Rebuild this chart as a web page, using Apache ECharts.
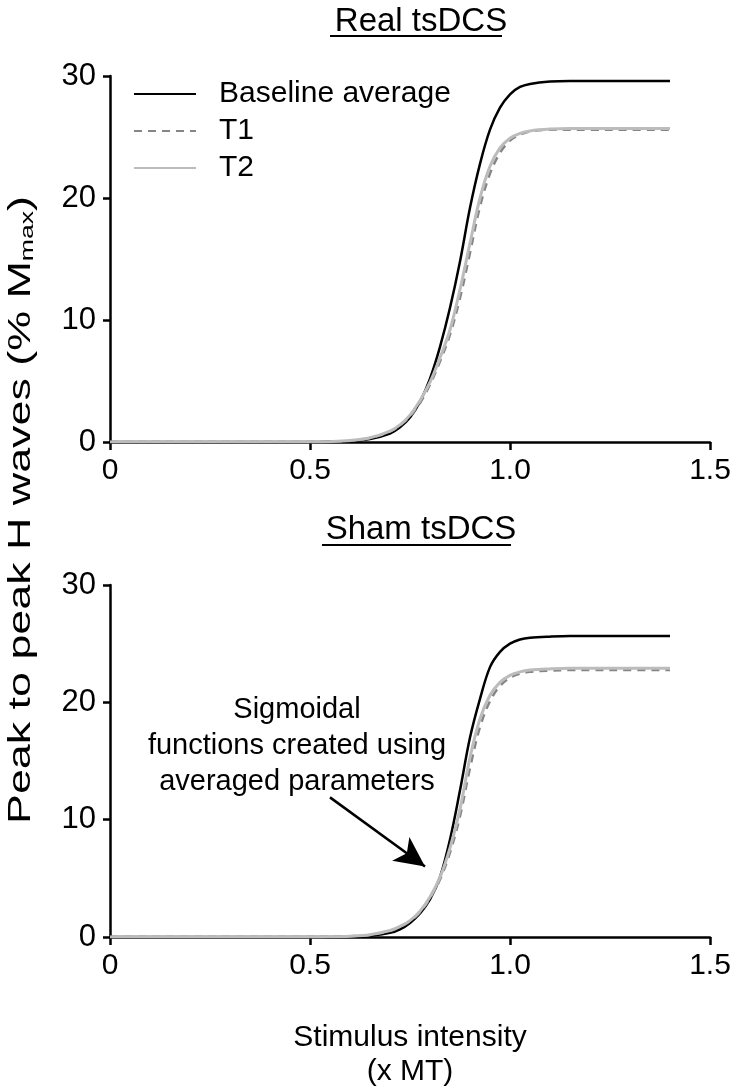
<!DOCTYPE html>
<html>
<head>
<meta charset="utf-8">
<script src="https://cdn.jsdelivr.net/npm/echarts@6/dist/echarts.min.js"></script>
<style>
  html, body { margin: 0; padding: 0; background: #fff; }
  #chart { width: 736px; height: 1090px; }
</style>
</head>
<body>
<div id="chart"></div>
<script>
// stimulus intensity (x MT) sample points
const xs = [0, 0.1, 0.2, 0.3, 0.4, 0.5, 0.55, 0.6, 0.65, 0.7, 0.725, 0.75, 0.775, 0.8, 0.825, 0.85,
  0.875, 0.9, 0.925, 0.95, 0.975, 1.0, 1.025, 1.05, 1.1, 1.15, 1.2, 1.3, 1.4];

// Real tsDCS
const realBaseline = [0, 0, 0, 0, 0, 0, 0.02, 0.08, 0.25, 0.7, 1.2, 2.0, 3.3, 5.2, 7.8, 11.0,
  14.8, 19.2, 22.8, 25.6, 27.4, 28.5, 29.1, 29.35, 29.55, 29.6, 29.6, 29.6, 29.6];
const realT1 = [0, 0, 0, 0, 0, 0, 0.03, 0.1, 0.32, 0.85, 1.35, 2.1, 3.2, 4.7, 6.6, 8.8,
  11.8, 15.5, 19.3, 22.0, 23.7, 24.7, 25.2, 25.45, 25.6, 25.6, 25.6, 25.6, 25.6];
const realT2 = [0, 0, 0, 0, 0, 0, 0.03, 0.12, 0.35, 0.9, 1.4, 2.2, 3.4, 4.9, 6.9, 9.2,
  12.5, 16.3, 20.0, 22.6, 24.1, 24.9, 25.3, 25.5, 25.65, 25.7, 25.7, 25.7, 25.7];

// Sham tsDCS
const shamBaseline = [0, 0, 0, 0, 0, 0, 0, 0.03, 0.1, 0.35, 0.65, 1.2, 2.0, 3.2, 5.1, 8.3,
  12.5, 17.0, 20.3, 23.0, 24.3, 25.0, 25.35, 25.5, 25.6, 25.65, 25.65, 25.65, 25.65];
const shamT1 = [0, 0, 0, 0, 0, 0, 0.02, 0.06, 0.18, 0.5, 0.85, 1.35, 2.1, 3.3, 4.9, 7.2,
  10.3, 14.4, 17.9, 20.1, 21.4, 22.1, 22.45, 22.6, 22.7, 22.75, 22.75, 22.75, 22.75];
const shamT2 = [0, 0, 0, 0, 0, 0, 0.02, 0.07, 0.2, 0.55, 0.9, 1.4, 2.2, 3.4, 5.1, 7.6,
  10.9, 15.3, 18.6, 20.6, 21.7, 22.3, 22.6, 22.75, 22.85, 22.9, 22.9, 22.9, 22.9];

const seriesNames = ["Baseline average", "T1", "T2"];

// arrow of the annotation, in data units of the sham panel
const arrowFrom = [0.55, 11.9];
const arrowTo = [0.7875, 6.0];

const font = "'Liberation Sans', Arial, sans-serif";
const pair = vals => xs.map((x, i) => [x, vals[i]]);

const lineStyles = [
  { color: "#000000", width: 2.5, type: "solid" },
  { color: "#858585", width: 2.5, type: [8, 6] },
  { color: "#bcbcbc", width: 3, type: "solid" }
];

function makeSeries(vals, idx, panel) {
  return {
    name: seriesNames[idx],
    type: "line",
    xAxisIndex: panel,
    yAxisIndex: panel,
    data: pair(vals),
    smooth: 0.35,
    symbol: "none",
    color: lineStyles[idx].color,
    lineStyle: lineStyles[idx],
    z: 2 + idx
  };
}

function xAxisOpt(panel) {
  let ax = {
    type: "value",
    gridIndex: panel,
    min: 0,
    max: 1.5,
    interval: 0.5,
    splitLine: { show: false },
    axisLine: { onZero: false, lineStyle: { color: "#000", width: 2.5 } },
    axisTick: { length: 8, lineStyle: { color: "#000", width: 2.5 } },
    axisLabel: {
      color: "#000",
      fontFamily: font,
      fontSize: 30,
      margin: 14,
      formatter: v => (v === 0 ? "0" : v.toFixed(1))
    }
  };
  if (panel === 1) {
    ax.name = "Stimulus intensity\n(x MT)";
    ax.nameLocation = "middle";
    ax.nameGap = 84;
    ax.nameTextStyle = { color: "#000", fontFamily: font, fontSize: 30, lineHeight: 34 };
  }
  return ax;
}

function yAxisOpt(panel) {
  return {
    type: "value",
    gridIndex: panel,
    min: 0,
    max: 30,
    interval: 10,
    splitLine: { show: false },
    axisLine: { show: true, lineStyle: { color: "#000", width: 2.5 } },
    axisTick: { show: true, length: 7, lineStyle: { color: "#000", width: 2.5 } },
    axisLabel: { color: "#000", fontFamily: font, fontSize: 31, margin: 14 }
  };
}

const chart = echarts.init(document.getElementById("chart"));

const titleStyle = { color: "#000", fontFamily: font, fontSize: 33, fontWeight: "normal" };

const option = {
  animation: false,
  backgroundColor: "#fff",
  title: [
    { text: "Real tsDCS", left: 416, top: 0, textAlign: "center", textStyle: titleStyle },
    { text: "Sham tsDCS", left: 416, top: 508, textAlign: "center", textStyle: titleStyle }
  ],
  legend: {
    data: seriesNames,
    orient: "vertical",
    left: 128,
    top: 74,
    itemWidth: 62,
    itemHeight: 14,
    itemGap: 7,
    itemStyle: { opacity: 0 },
    textStyle: { color: "#000", fontFamily: font, fontSize: 30, padding: [0, 0, 0, 18] },
    selectedMode: false
  },
  grid: [
    { left: 110, top: 76, width: 600, height: 366 },
    { left: 110, top: 585, width: 600, height: 365 }
  ],
  xAxis: [xAxisOpt(0), xAxisOpt(1)],
  yAxis: [yAxisOpt(0), yAxisOpt(1)],
  graphic: [
    // underlines of the panel titles
    { type: "line", shape: { x1: 330, y1: 36, x2: 502, y2: 36 }, style: { stroke: "#000", lineWidth: 2 } },
    { type: "line", shape: { x1: 322, y1: 545, x2: 511, y2: 545 }, style: { stroke: "#000", lineWidth: 2 } },
    {
      type: "text",
      x: 21,
      y: 510,
      rotation: Math.PI / 2,
      scaleX: 1.4,
      style: {
        text: "Peak to peak H waves (% M{sub|max})",
        fill: "#000",
        font: "32px " + font,
        align: "center",
        verticalAlign: "middle",
        rich: {
          sub: { fontSize: 19, fontFamily: font, fill: "#000", padding: [14, 0, 0, 0] }
        }
      }
    },
    {
      type: "text",
      x: 297,
      y: 692,
      style: {
        text: "Sigmoidal\nfunctions created using\naveraged parameters",
        fill: "#000",
        font: "29px " + font,
        align: "center",
        lineHeight: 36
      }
    }
  ],
  series: [
    makeSeries(realBaseline, 0, 0),
    makeSeries(realT1, 1, 0),
    makeSeries(realT2, 2, 0),
    makeSeries(shamBaseline, 0, 1),
    makeSeries(shamT1, 1, 1),
    Object.assign(makeSeries(shamT2, 2, 1), {
      markLine: {
        silent: true,
        symbol: ["none", "arrow"],
        symbolSize: [22, 30],
        label: { show: false },
        lineStyle: { color: "#000", width: 2.5, type: "solid" },
        data: [[{ coord: arrowFrom }, { coord: arrowTo }]]
      }
    })
  ]
};

chart.setOption(option);
window.addEventListener("resize", () => {
  chart.resize();
});
</script>
</body>
</html>
